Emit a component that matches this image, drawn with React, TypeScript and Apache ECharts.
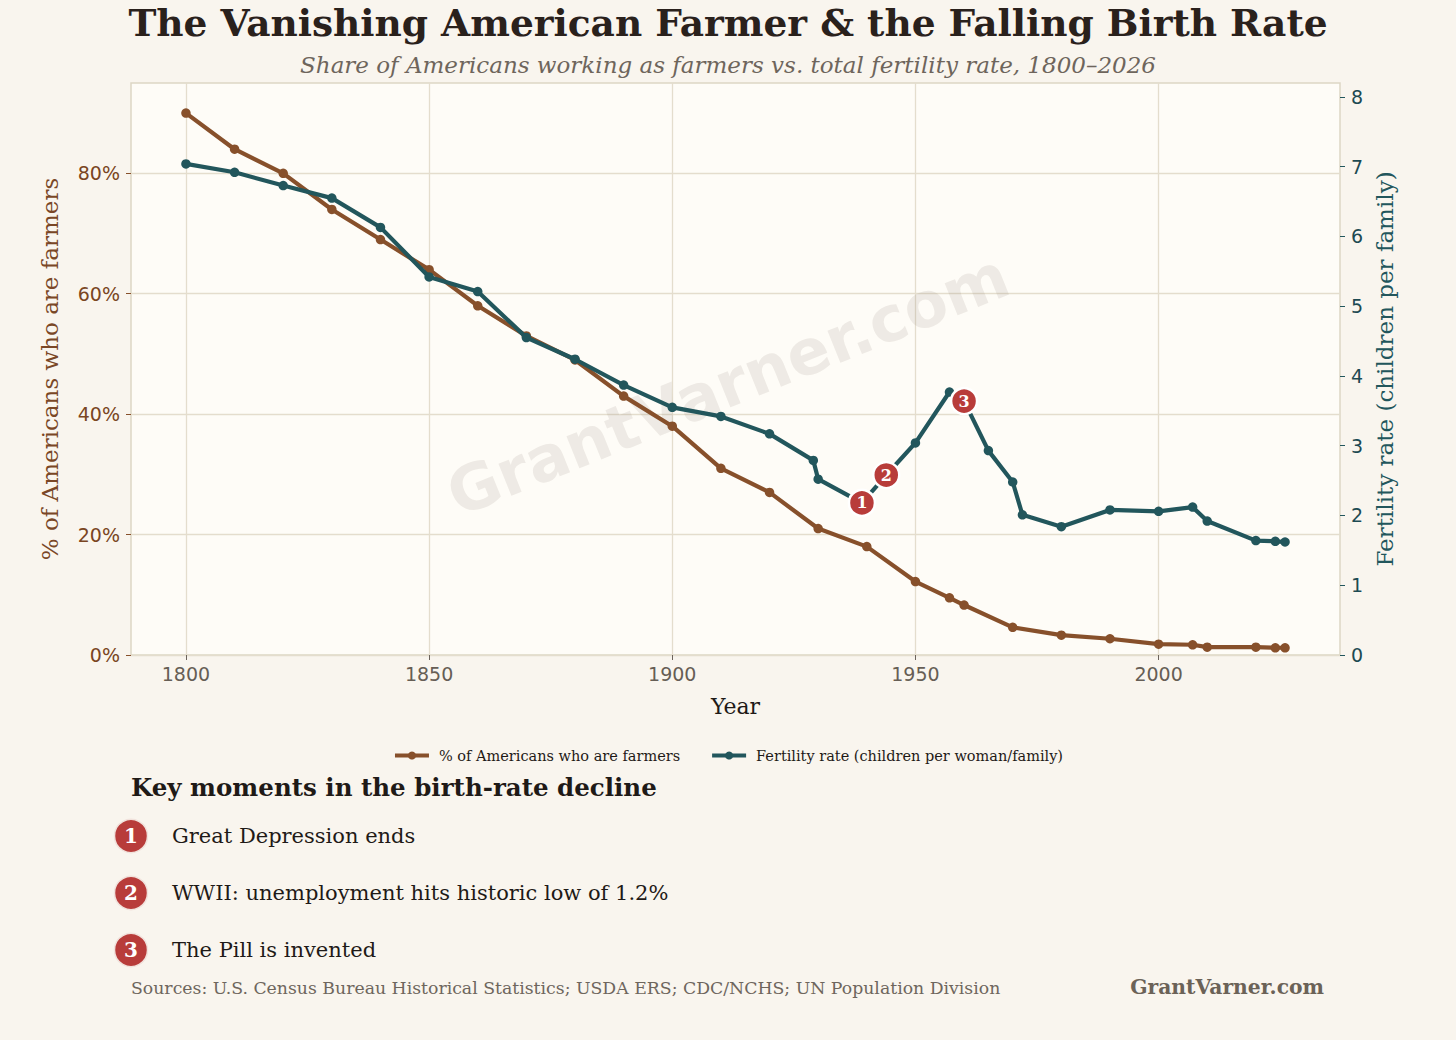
import * as echarts from "echarts";
import { useEffect, useRef } from "react";

// years and values
const farmerYears = [
  1800, 1810, 1820, 1830, 1840, 1850, 1860, 1870, 1880, 1890, 1900, 1910, 1920,
  1930, 1940, 1950, 1957, 1960, 1970, 1980, 1990, 2000, 2007, 2010, 2020, 2024, 2026
];
const farmerShare = [
  90, 84, 80, 74, 69, 64, 58, 53, 49, 43, 38, 31, 27,
  21, 18, 12.2, 9.5, 8.3, 4.6, 3.3, 2.7, 1.8, 1.7, 1.3, 1.3, 1.2, 1.2
];

const fertilityYears = [
  1800, 1810, 1820, 1830, 1840, 1850, 1860, 1870, 1880, 1890, 1900, 1910, 1920,
  1929, 1930, 1939, 1944, 1950, 1957, 1960, 1965, 1970, 1972, 1980, 1990, 2000,
  2007, 2010, 2020, 2024, 2026
];
const fertilityRate = [
  7.04, 6.92, 6.73, 6.55, 6.13, 5.42, 5.21, 4.55, 4.24, 3.87, 3.55, 3.42, 3.17,
  2.79, 2.52, 2.18, 2.58, 3.04, 3.77, 3.64, 2.93, 2.48, 2.01, 1.84, 2.08, 2.06,
  2.12, 1.92, 1.64, 1.63, 1.62
];

const xTicks = [1800, 1850, 1900, 1950, 2000];
const farmerTicks = [0, 20, 40, 60, 80];
const fertilityTicks = [0, 1, 2, 3, 4, 5, 6, 7, 8];

const momentYears = [1939, 1944, 1960];
const momentLabels = [
  "Great Depression ends",
  "WWII: unemployment hits historic low of 1.2%",
  "The Pill is invented"
];

const BROWN = "#87502b";
const TEAL = "#22565c";
const RED = "#b83c3a";
const SERIF = "'DejaVu Serif', serif";
const SANS = "'DejaVu Sans', sans-serif";

function zip(xs: number[], ys: number[]) {
  return xs.map((x, i) => [x, ys[i]]);
}

function Chart() {
  const ref = useRef<HTMLDivElement>(null);

  useEffect(() => {
    if (!ref.current) return;
    document.body.style.margin = "0";
    const chart = echarts.init(ref.current, undefined, { renderer: "svg" });

    const keyRows: any[] = [];
    momentLabels.forEach((label, i) => {
      const y = 836 + i * 57;
      keyRows.push(
        {
          type: "circle",
          shape: { cx: 131, cy: y, r: 16.5 },
          style: { fill: RED, stroke: "#f1e2dc", lineWidth: 1.5 }
        },
        {
          type: "text",
          x: 131,
          y: y,
          style: {
            text: String(i + 1),
            fill: "#fff",
            font: `bold 20px ${SERIF}`,
            align: "center",
            verticalAlign: "middle"
          }
        },
        {
          type: "text",
          x: 172,
          y: y,
          style: {
            text: label,
            fill: "#1f1a17",
            font: `21px ${SERIF}`,
            verticalAlign: "middle"
          }
        }
      );
    });

    chart.setOption({
      animation: false,
      backgroundColor: "#f9f5ee",
      title: [
        {
          text: "The Vanishing American Farmer & the Falling Birth Rate",
          left: "center",
          top: -1,
          textStyle: { fontFamily: SERIF, fontSize: 37.5, fontWeight: "bold", color: "#2a211c" }
        },
        {
          text: "Share of Americans working as farmers vs. total fertility rate, 1800–2026",
          left: "center",
          top: 48,
          textStyle: {
            fontFamily: SERIF,
            fontSize: 23,
            fontStyle: "italic",
            fontWeight: "normal",
            color: "#6e655c"
          }
        }
      ],
      grid: {
        left: 131,
        top: 83,
        width: 1209,
        height: 572,
        show: true,
        backgroundColor: "#fefcf7",
        borderColor: "#ddd6c5",
        borderWidth: 1.5
      },
      legend: {
        top: 743,
        left: "center",
        itemWidth: 34,
        itemHeight: 10,
        itemGap: 30,
        lineStyle: { width: 4 },
        textStyle: { fontFamily: SERIF, fontSize: 14.5, color: "#1f1a17", padding: [0, 0, 0, 5] },
        data: ["% of Americans who are farmers", "Fertility rate (children per woman/family)"]
      },
      xAxis: {
        type: "value",
        min: 1788.7,
        max: 2037.3,
        name: "Year",
        nameLocation: "middle",
        nameGap: 40,
        nameTextStyle: { fontFamily: SERIF, fontSize: 22, color: "#1f1a17" },
        axisLine: { show: false },
        axisTick: { show: true, length: 5, customValues: xTicks, lineStyle: { color: "#6b635b" } },
        axisLabel: {
          customValues: xTicks,
          formatter: (v: number) => String(v),
          margin: 9,
          fontFamily: SANS,
          fontSize: 19,
          color: "#665e55"
        },
        splitLine: { show: true, lineStyle: { color: "#e4ddcd", width: 1.3 } }
      },
      yAxis: [
        {
          type: "value",
          min: 0,
          max: 95,
          name: "% of Americans who are farmers",
          nameLocation: "middle",
          nameGap: 70,
          nameTextStyle: { fontFamily: SERIF, fontSize: 23, color: "#7a4726" },
          axisLine: { show: false },
          axisTick: { show: true, length: 5, customValues: farmerTicks, lineStyle: { color: BROWN } },
          axisLabel: {
            customValues: farmerTicks,
            formatter: (v: number) => `${v}%`,
            margin: 11,
            fontFamily: SANS,
            fontSize: 19,
            color: "#7a4522"
          },
          splitLine: { show: true, lineStyle: { color: "#e4ddcd", width: 1.3 } }
        },
        {
          type: "value",
          min: 0,
          max: 8.2,
          position: "right",
          name: "Fertility rate (children per family)",
          nameLocation: "middle",
          nameGap: 33,
          nameTextStyle: { fontFamily: SERIF, fontSize: 23, color: TEAL },
          axisLine: { show: false },
          axisTick: { show: true, length: 5, customValues: fertilityTicks, lineStyle: { color: TEAL } },
          axisLabel: {
            customValues: fertilityTicks,
            margin: 11,
            fontFamily: SANS,
            fontSize: 19,
            color: "#1d4a52"
          },
          splitLine: { show: false }
        }
      ],
      series: [
        {
          name: "% of Americans who are farmers",
          type: "line",
          yAxisIndex: 0,
          data: zip(farmerYears, farmerShare),
          symbol: "circle",
          symbolSize: 9.5,
          showAllSymbol: true,
          itemStyle: { color: BROWN },
          lineStyle: { color: BROWN, width: 4.2 },
          z: 3
        },
        {
          name: "Fertility rate (children per woman/family)",
          type: "line",
          yAxisIndex: 1,
          data: zip(fertilityYears, fertilityRate),
          symbol: "circle",
          symbolSize: 9.5,
          showAllSymbol: true,
          itemStyle: { color: TEAL },
          lineStyle: { color: TEAL, width: 4.2 },
          z: 4,
          markPoint: {
            symbol: "circle",
            symbolSize: 26,
            itemStyle: { color: RED, borderColor: "#ffffff", borderWidth: 2.5 },
            label: {
              show: true,
              position: "inside",
              color: "#fff",
              fontFamily: SERIF,
              fontWeight: "bold",
              fontSize: 16
            },
            data: momentYears.map((yr, i) => ({
              coord: [yr, fertilityRate[fertilityYears.indexOf(yr)]],
              value: i + 1
            }))
          }
        }
      ],
      graphic: [
        {
          type: "text",
          x: 728,
          y: 385,
          rotation: (22 * Math.PI) / 180,
          z: 1,
          style: {
            text: "GrantVarner.com",
            fill: "rgba(120,110,100,0.12)",
            font: `bold 63px ${SANS}`,
            align: "center",
            verticalAlign: "middle"
          }
        },
        {
          type: "text",
          x: 131,
          y: 787,
          style: {
            text: "Key moments in the birth-rate decline",
            fill: "#1f1a17",
            font: `bold 24.5px ${SERIF}`,
            verticalAlign: "middle"
          }
        },
        ...keyRows,
        {
          type: "text",
          x: 131,
          y: 988,
          style: {
            text: "Sources: U.S. Census Bureau Historical Statistics; USDA ERS; CDC/NCHS; UN Population Division",
            fill: "#6e665d",
            font: `17.3px ${SERIF}`,
            verticalAlign: "middle"
          }
        },
        {
          type: "text",
          x: 1324,
          y: 987,
          style: {
            text: "GrantVarner.com",
            fill: "#6b6257",
            font: `bold 20.3px ${SERIF}`,
            align: "right",
            verticalAlign: "middle"
          }
        }
      ]
    });

    return () => chart.dispose();
  }, []);

  return <div ref={ref} style={{ width: 1456, height: 1040 }} />;
}

export default function App() {
  return <Chart />;
}
